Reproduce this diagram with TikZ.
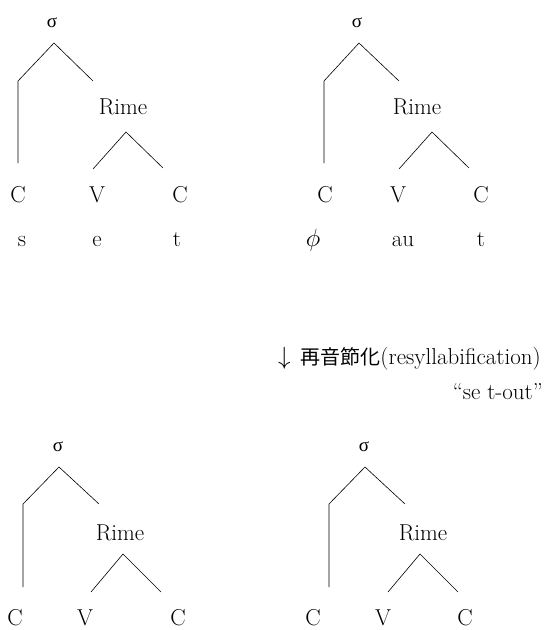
\documentclass[tikz,border=0pt]{standalone}
\usepackage{fontspec}
\newfontfamily\cjk{Noto Sans CJK JP}
\newfontfamily\grk{Liberation Serif}
\begin{document}
\begin{tikzpicture}[x=1pt,y=-1pt,
  lbl/.style={inner sep=0pt,font=\fontsize{23}{27}\selectfont},
  sig/.style={inner sep=0pt,font=\grk\fontsize{19}{22}\selectfont},
  br/.style={line width=0.6pt,black}]
\useasboundingbox (0,0) rectangle (554,630);
% ---------- top-left tree ----------
\node[sig] (s1) at (52,23) {σ};
\coordinate (a1) at (54,43);
\coordinate (l1) at (18,81);
\coordinate (lb1) at (18,163);
\coordinate (r1) at (93,81);
\node[lbl] (rime1) at (123,107) {Rime};
\coordinate (ra1) at (126,132);
\coordinate (rl1) at (93,169);
\coordinate (rr1) at (163,168);
\node[lbl] (c1) at (18,195) {C};
\node[lbl] (v1) at (97,195) {V};
\node[lbl] (cc1) at (180,195) {C};
\node[lbl,anchor=base] (w1a) at (22,246) {s};
\node[lbl,anchor=base] (w1b) at (97,246) {e};
\node[lbl,anchor=base] (w1c) at (177,246) {t};
\draw[br] (lb1) -- (l1) -- (a1) -- (r1);
\draw[br] (rl1) -- (ra1) -- (rr1);
% ---------- top-right tree ----------
\node[sig] (s2) at (357,23) {σ};
\coordinate (a2) at (359,43);
\coordinate (l2) at (324,81);
\coordinate (lb2) at (324,163);
\coordinate (r2) at (399,81);
\node[lbl] (rime2) at (417,107) {Rime};
\coordinate (ra2) at (432,132);
\coordinate (rl2) at (399,169);
\coordinate (rr2) at (469,168);
\node[lbl] (c2) at (325,195) {C};
\node[lbl] (v2) at (398,195) {V};
\node[lbl] (cc2) at (481,195) {C};
\node[lbl,anchor=base] (w2a) at (313,246) {$\phi$};
\node[lbl,anchor=base] (w2b) at (403,246) {au};
\node[lbl,anchor=base] (w2c) at (481,246) {t};
\draw[br] (lb2) -- (l2) -- (a2) -- (r2);
\draw[br] (rl2) -- (ra2) -- (rr2);
% ---------- middle text ----------
\node[lbl,anchor=base east] (proc) at (541,364)
  {$\downarrow$\hspace{10pt}{\cjk\fontsize{20}{24}\selectfont 再音節化}(resyllabification)};
\node[lbl,anchor=base east] (gloss) at (543,399) {``se t-out''};
% ---------- bottom-left tree ----------
\node[sig] (s3) at (58,447) {σ};
\coordinate (a3) at (59,467);
\coordinate (l3) at (23,504);
\coordinate (lb3) at (23,587);
\coordinate (r3) at (99,504);
\node[lbl] (rime3) at (120,533) {Rime};
\coordinate (ra3) at (123,554);
\coordinate (rl3) at (91,592);
\coordinate (rr3) at (161,592);
\node[lbl] (c3) at (15,618) {C};
\node[lbl] (v3) at (85,618) {V};
\node[lbl] (cc3) at (178,618) {C};
\draw[br] (lb3) -- (l3) -- (a3) -- (r3);
\draw[br] (rl3) -- (ra3) -- (rr3);
% ---------- bottom-right tree ----------
\node[sig] (s4) at (364,447) {σ};
\coordinate (a4) at (365,467);
\coordinate (l4) at (329,504);
\coordinate (lb4) at (329,587);
\coordinate (r4) at (405,504);
\node[lbl] (rime4) at (423,533) {Rime};
\coordinate (ra4) at (420,554);
\coordinate (rl4) at (388,592);
\coordinate (rr4) at (458,592);
\node[lbl] (c4) at (313,618) {C};
\node[lbl] (v4) at (383,618) {V};
\node[lbl] (cc4) at (465,618) {C};
\draw[br] (lb4) -- (l4) -- (a4) -- (r4);
\draw[br] (rl4) -- (ra4) -- (rr4);
\end{tikzpicture}
\end{document}
